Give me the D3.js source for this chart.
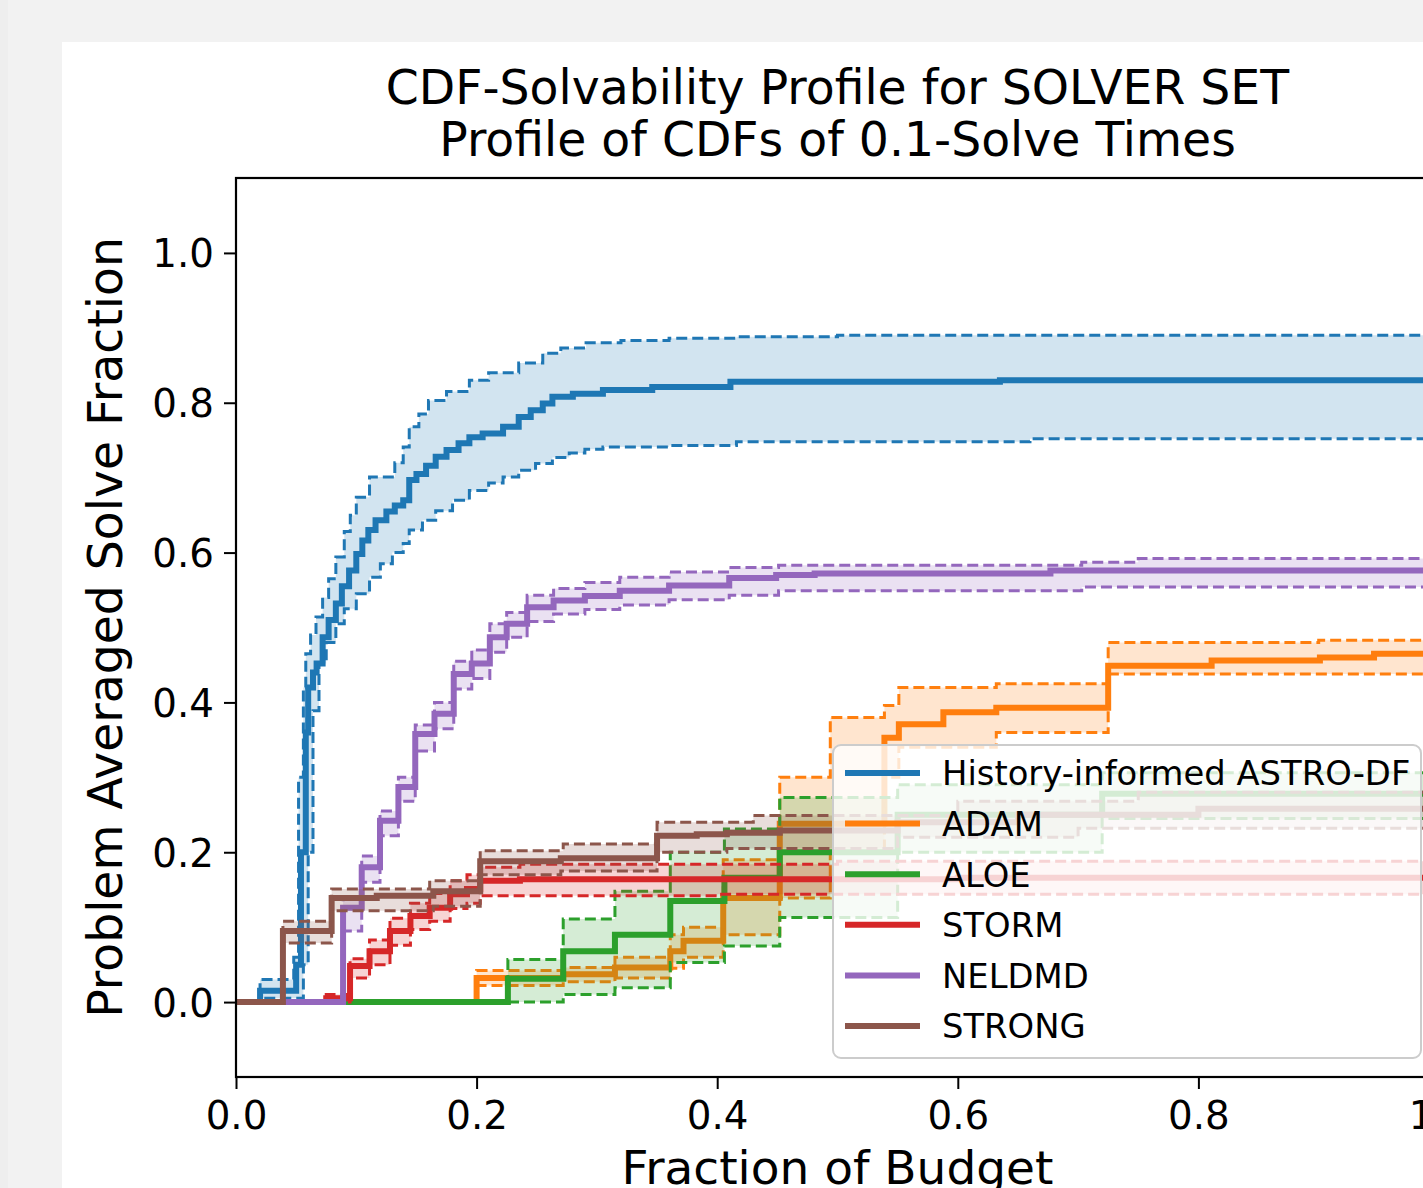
<!DOCTYPE html>
<html>
<head>
<meta charset="utf-8">
<script src="https://cdn.jsdelivr.net/npm/d3@7"></script>
<style>
  html, body { margin: 0; padding: 0; background: #f2f2f2; overflow: hidden; }
  svg { display: block; font-family: "DejaVu Sans", sans-serif; }
</style>
</head>
<body>
<svg id="chart" width="1423" height="1188"></svg>
<script>
// step profiles: [fraction of budget, solve fraction], step-after
const solvers = ["History-informed ASTRO-DF", "ADAM", "ALOE", "STORM", "NELDMD", "STRONG"];
const colors = ["#1f77b4", "#ff7f0e", "#2ca02c", "#d62728", "#9467bd", "#8c564b"];

const astroMain = [[0,0],[0.02,0.015],[0.05,0.05],[0.054,0.2],[0.058,0.36],[0.06,0.42],[0.064,0.44],[0.067,0.452],[0.072,0.487],[0.077,0.51],[0.083,0.532],[0.088,0.555],[0.094,0.576],[0.1,0.598],[0.105,0.616],[0.11,0.63],[0.116,0.643],[0.125,0.655],[0.132,0.663],[0.139,0.67],[0.144,0.697],[0.15,0.705],[0.158,0.716],[0.166,0.728],[0.175,0.737],[0.185,0.746],[0.194,0.754],[0.205,0.759],[0.222,0.768],[0.235,0.781],[0.245,0.79],[0.255,0.799],[0.263,0.808],[0.28,0.812],[0.305,0.817],[0.346,0.821],[0.411,0.828],[0.635,0.83],[1,0.83]];
const astroUpper = [[0,0],[0.02,0.03],[0.048,0.06],[0.052,0.3],[0.056,0.42],[0.058,0.465],[0.062,0.49],[0.0665,0.514],[0.072,0.54],[0.077,0.565],[0.083,0.594],[0.09,0.628],[0.095,0.65],[0.1,0.674],[0.111,0.701],[0.132,0.72],[0.139,0.741],[0.144,0.768],[0.152,0.785],[0.16,0.803],[0.175,0.815],[0.194,0.83],[0.21,0.84],[0.235,0.853],[0.255,0.866],[0.27,0.873],[0.291,0.88],[0.32,0.883],[0.36,0.886],[0.416,0.888],[0.5,0.89],[1,0.89]];
const astroLower = [[0,0],[0.02,0.005],[0.05,0.005],[0.056,0.05],[0.06,0.2],[0.064,0.389],[0.069,0.452],[0.075,0.48],[0.083,0.505],[0.09,0.525],[0.1,0.545],[0.111,0.567],[0.12,0.585],[0.13,0.6],[0.139,0.612],[0.144,0.63],[0.155,0.643],[0.166,0.656],[0.18,0.67],[0.194,0.683],[0.21,0.693],[0.222,0.701],[0.235,0.71],[0.249,0.719],[0.263,0.727],[0.277,0.733],[0.29,0.738],[0.305,0.741],[0.36,0.743],[0.416,0.748],[0.66,0.752],[1,0.752]];

const adamMain = [[0,0],[0.2,0.032],[0.272,0.037],[0.315,0.046],[0.361,0.068],[0.372,0.082],[0.405,0.139],[0.452,0.238],[0.539,0.353],[0.551,0.371],[0.588,0.387],[0.632,0.393],[0.725,0.449],[0.811,0.456],[0.901,0.46],[0.946,0.465],[1,0.465]];
const adamUpper = [[0,0],[0.2,0.042],[0.272,0.046],[0.315,0.06],[0.361,0.09],[0.372,0.1],[0.405,0.19],[0.452,0.3],[0.494,0.38],[0.539,0.396],[0.551,0.42],[0.632,0.425],[0.725,0.48],[0.9,0.483],[1,0.483]];
const adamLower = [[0,0],[0.2,0.022],[0.272,0.027],[0.315,0.032],[0.361,0.045],[0.372,0.06],[0.405,0.09],[0.452,0.139],[0.494,0.2],[0.539,0.3],[0.551,0.34],[0.632,0.36],[0.725,0.438],[1,0.438]];

const aloeMain = [[0,0],[0.226,0.031],[0.272,0.068],[0.315,0.09],[0.361,0.135],[0.406,0.166],[0.452,0.2],[0.55,0.25],[0.72,0.278],[1,0.28]];
const aloeUpper = [[0,0],[0.226,0.057],[0.272,0.111],[0.315,0.148],[0.361,0.2],[0.406,0.231],[0.452,0.273],[0.55,0.29],[0.72,0.306],[1,0.308]];
const aloeLower = [[0,0],[0.272,0.01],[0.315,0.019],[0.361,0.053],[0.406,0.075],[0.452,0.113],[0.55,0.2],[0.72,0.245],[1,0.25]];

const stormMain = [[0,0],[0.075,0.005],[0.0948,0.048],[0.111,0.068],[0.128,0.095],[0.145,0.115],[0.161,0.126],[0.178,0.144],[0.192,0.151],[0.203,0.162],[0.236,0.164],[0.6,0.166],[1,0.166]];
const stormUpper = [[0,0],[0.075,0.01],[0.0948,0.058],[0.111,0.083],[0.128,0.112],[0.145,0.132],[0.161,0.145],[0.178,0.162],[0.192,0.17],[0.203,0.18],[0.236,0.184],[0.5,0.188],[1,0.188]];
const stormLower = [[0,0],[0.0948,0.032],[0.111,0.05],[0.128,0.076],[0.145,0.097],[0.161,0.108],[0.178,0.125],[0.192,0.132],[0.203,0.142],[0.4,0.144],[1,0.144]];

const neldmdMain = [[0,0],[0.089,0.126],[0.1045,0.18],[0.1197,0.242],[0.135,0.287],[0.149,0.358],[0.165,0.385],[0.181,0.438],[0.196,0.452],[0.211,0.487],[0.225,0.505],[0.242,0.527],[0.264,0.536],[0.29,0.542],[0.319,0.549],[0.36,0.556],[0.41,0.566],[0.449,0.57],[0.481,0.572],[0.677,0.576],[1,0.576]];
const neldmdUpper = [[0,0],[0.089,0.14],[0.1045,0.195],[0.1197,0.255],[0.135,0.3],[0.149,0.37],[0.165,0.4],[0.181,0.455],[0.196,0.47],[0.211,0.505],[0.225,0.52],[0.242,0.543],[0.264,0.552],[0.29,0.56],[0.319,0.567],[0.36,0.574],[0.41,0.58],[0.451,0.583],[0.703,0.587],[0.75,0.592],[1,0.592]];
const neldmdLower = [[0,0],[0.089,0.095],[0.1045,0.16],[0.1197,0.222],[0.135,0.268],[0.149,0.335],[0.165,0.365],[0.181,0.418],[0.196,0.432],[0.211,0.467],[0.225,0.487],[0.242,0.508],[0.264,0.518],[0.29,0.524],[0.319,0.53],[0.36,0.537],[0.41,0.543],[0.451,0.549],[0.703,0.554],[1,0.554]];

const strongMain = [[0,0],[0.039,0.095],[0.0795,0.139],[0.117,0.142],[0.164,0.148],[0.203,0.188],[0.27,0.192],[0.35,0.222],[0.383,0.224],[0.408,0.226],[0.452,0.229],[0.55,0.24],[0.65,0.25],[0.8,0.258],[1,0.258]];
const strongUpper = [[0,0],[0.039,0.108],[0.0795,0.151],[0.161,0.162],[0.203,0.202],[0.272,0.211],[0.35,0.24],[0.43,0.249],[0.6,0.268],[0.75,0.28],[1,0.283]];
const strongLower = [[0,0],[0.039,0.079],[0.0795,0.122],[0.164,0.128],[0.203,0.17],[0.27,0.175],[0.35,0.2],[0.408,0.205],[0.55,0.22],[0.7,0.232],[1,0.235]];

const xTicks = [0, 0.2, 0.4, 0.6, 0.8, 1.0];
const yTicks = [0, 0.2, 0.4, 0.6, 0.8, 1.0];
const titleLines = ["CDF-Solvability Profile for SOLVER SET", "Profile of CDFs of 0.1-Solve Times"];

const series = [
  { main: astroMain, lo: astroLower, hi: astroUpper },
  { main: adamMain, lo: adamLower, hi: adamUpper },
  { main: aloeMain, lo: aloeLower, hi: aloeUpper },
  { main: stormMain, lo: stormLower, hi: stormUpper },
  { main: neldmdMain, lo: neldmdLower, hi: neldmdUpper },
  { main: strongMain, lo: strongLower, hi: strongUpper },
].map((s, i) => ({ ...s, name: solvers[i], color: colors[i] }));

const svg = d3.select("#chart");
svg.append("rect").attr("x", 62).attr("y", 42).attr("width", 1423).attr("height", 1188).attr("fill", "#fff");
svg.append("rect").attr("x", 0).attr("y", 0).attr("width", 8).attr("height", 1188).attr("fill", "#eeeeee");

const L = 236, R = 1439, T = 178, B = 1077;
const x = d3.scaleLinear().domain([0, 1]).range([L, R]);
const y = d3.scaleLinear().domain([-0.1, 1.1]).range([B, T]);

svg.append("clipPath").attr("id", "plotclip")
  .append("rect").attr("x", L).attr("y", T).attr("width", R - L).attr("height", B - T);

const plot = svg.append("g").attr("clip-path", "url(#plotclip)");

const stepLine = d3.line().x(d => x(d[0])).y(d => y(d[1])).curve(d3.curveStepAfter);

// value of a step function at t
function stepAt(pts, t) {
  const i = d3.bisector(d => d[0]).right(pts, t) - 1;
  return pts[Math.max(0, i)][1];
}

series.forEach(s => {
  const xs = Array.from(new Set(s.lo.map(d => d[0]).concat(s.hi.map(d => d[0])))).sort((a, b) => a - b);
  const band = xs.map(t => ({ t, lo: stepAt(s.lo, t), hi: stepAt(s.hi, t) }));
  const area = d3.area().x(d => x(d.t)).y0(d => y(d.lo)).y1(d => y(d.hi)).curve(d3.curveStepAfter);

  plot.append("path").attr("d", stepLine(s.main))
    .attr("fill", "none").attr("stroke", s.color).attr("stroke-width", 6);
  plot.append("path").attr("d", area(band))
    .attr("fill", s.color).attr("fill-opacity", 0.2).attr("stroke", "none");
  [s.lo, s.hi].forEach(b => {
    plot.append("path").attr("d", stepLine(b))
      .attr("fill", "none").attr("stroke", s.color).attr("stroke-width", 3)
      .attr("stroke-dasharray", "11,5");
  });
});

// axes
const xAxis = svg.append("g").attr("transform", `translate(0,${B})`)
  .call(d3.axisBottom(x).tickValues(xTicks).tickFormat(d3.format(".1f")).tickSize(12).tickPadding(10));
const yAxis = svg.append("g").attr("transform", `translate(${L},0)`)
  .call(d3.axisLeft(y).tickValues(yTicks).tickFormat(d3.format(".1f")).tickSize(12).tickPadding(10));
[xAxis, yAxis].forEach(a => {
  a.select(".domain").remove();
  a.selectAll("line").attr("stroke", "#000").attr("stroke-width", 2);
  a.selectAll("text").attr("fill", "#000").style("font-size", "38.8px").style("font-family", "DejaVu Sans");
});
xAxis.selectAll("text").attr("dy", "0.78em");
yAxis.selectAll("text").attr("dy", "0.36em");

// spines
svg.append("rect").attr("x", L).attr("y", T).attr("width", R - L).attr("height", B - T)
  .attr("fill", "none").attr("stroke", "#000").attr("stroke-width", 2.2);

// title + labels
svg.append("g").selectAll("text").data(titleLines).enter().append("text")
  .attr("x", (L + R) / 2).attr("y", (d, i) => 104 + i * 52)
  .attr("text-anchor", "middle").style("font-size", "47.3px").attr("fill", "#000")
  .text(d => d);

svg.append("text").attr("x", (L + R) / 2).attr("y", 1184)
  .attr("text-anchor", "middle").style("font-size", "47px").text("Fraction of Budget");

svg.append("text").attr("transform", `translate(122,${(T + B) / 2}) rotate(-90)`)
  .attr("text-anchor", "middle").style("font-size", "47.3px").text("Problem Averaged Solve Fraction");

// legend
const leg = svg.append("g");
leg.append("rect").attr("x", 833).attr("y", 745).attr("width", 588).attr("height", 313)
  .attr("rx", 8).attr("fill", "#fff").attr("fill-opacity", 0.8)
  .attr("stroke", "#cccccc").attr("stroke-width", 2);
series.forEach((s, i) => {
  const cy = 773 + i * 50.6;
  leg.append("line").attr("x1", 845).attr("x2", 920).attr("y1", cy).attr("y2", cy)
    .attr("stroke", s.color).attr("stroke-width", 6);
  leg.append("text").attr("x", 942).attr("y", cy + 12.3)
    .style("font-size", "33.8px").attr("fill", "#000").text(s.name);
});
</script>
</body>
</html>
